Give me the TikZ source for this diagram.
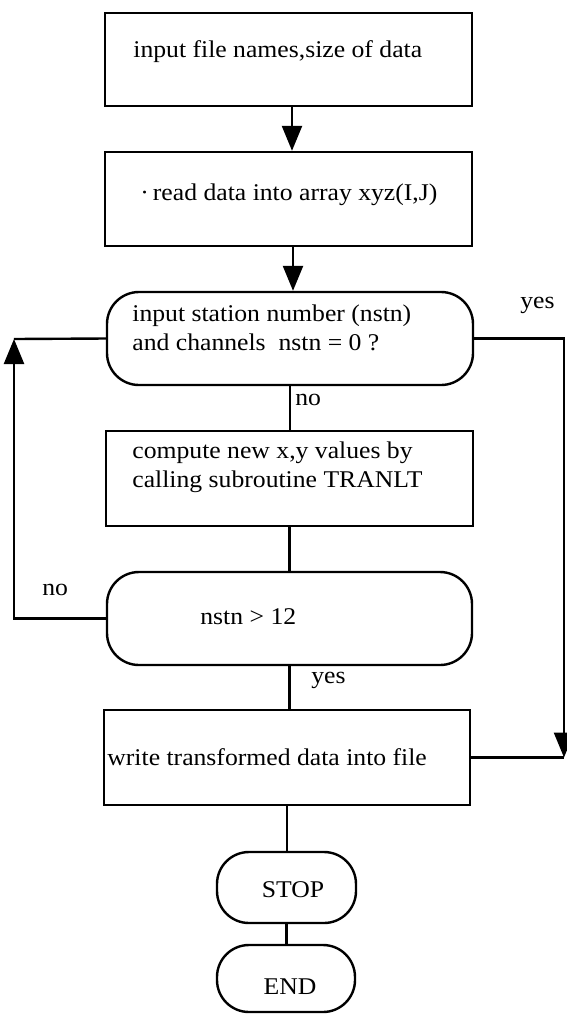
\documentclass[tikz,border=0pt]{standalone}
\usepackage{fontspec}
\setmainfont{Liberation Serif}[FakeStretch=1.07]
\usetikzlibrary{arrows.meta}
\begin{document}
\begin{tikzpicture}[x=0.5pt,y=-0.5pt,
  every node/.style={font=\fontsize{12}{14.5}\selectfont},
  boxshape/.style={draw,line width=1.2pt,inner sep=0pt},
  termshape/.style={draw,line width=1.2pt,inner sep=0pt,rounded corners=16pt},
  lbl/.style={anchor=west,inner sep=0pt,align=left},
  conn/.style={line width=1.2pt},
  arr/.style={line width=1.2pt,-{Triangle[length=12.5pt,width=10pt]}}]
\useasboundingbox (0,0) rectangle (567,1014);
% shapes
\node[boxshape,minimum width=183.5pt,minimum height=46.5pt] (b1) at (288.5,59.5) {};
\node[boxshape,minimum width=183.5pt,minimum height=47pt] (b2) at (288.5,199) {};
\node[termshape,minimum width=183pt,minimum height=46.5pt] (d1) at (290,338.5) {};
\node[boxshape,minimum width=183.5pt,minimum height=47.5pt] (b3) at (289.5,478.5) {};
\node[termshape,minimum width=182.5pt,minimum height=46.5pt] (d2) at (289.5,618.5) {};
\node[boxshape,minimum width=183pt,minimum height=47.5pt] (b4) at (287,757.5) {};
\node[termshape,minimum width=69.5pt,minimum height=35.5pt] (stop) at (286.5,887.5) {};
\node[termshape,minimum width=69pt,minimum height=33.5pt] (end) at (286,978.5) {};
% texts
\node[lbl] (t1) at (133,52) {input file names,size of data};
\node[lbl] (t2) at (140,195) {\textperiodcentered\,read data into array xyz(I,J)};
\node[lbl] (t3) at (132,327.5) {input station number (nstn)\\and channels\ \ nstn = 0 ?};
\node[lbl] (t4) at (132,467.5) {compute new x,y values by\\calling subroutine TRANLT};
\node[lbl] (t5) at (200,617) {nstn > 12};
\node[lbl] (t6) at (107,757) {write transformed data into file};
\node (t7) at (293,890) {STOP};
\node (t8) at (290,987) {END};
% labels
\node[lbl] (yes1) at (520,305) {yes};
\node[lbl] (no1) at (295,400) {no};
\node[lbl] (no2) at (42,590) {no};
\node[lbl] (yes2) at (311,680) {yes};
% coordinates
\coordinate (lx) at (14,339);
\coordinate (rx) at (564,757.5);
% connectors
\draw[arr] ([xshift=1.75pt]b1.south) -- ([xshift=1.75pt]b1.south |- b2.north);
\draw[arr] ([xshift=2.25pt]b2.south) -- ([xshift=2.25pt]b2.south |- d1.north);
\draw[conn] (d1.south) -- (d1.south |- b3.north);
\draw[conn] (b3.south) -- (b3.south |- d2.north);
\draw[conn] (d2.south) -- (d2.south |- b4.north);
\draw[conn] (b4.south) -- (b4.south |- stop.north);
\draw[conn] (stop.south) -- (stop.south |- end.north);
\draw[arr] (d2.west) -| (lx);
\draw[conn] (lx) -- (d1.west);
\draw[arr] (d1.east) -| (rx);
\draw[conn] (b4.east) -- (rx);
\end{tikzpicture}
\end{document}
